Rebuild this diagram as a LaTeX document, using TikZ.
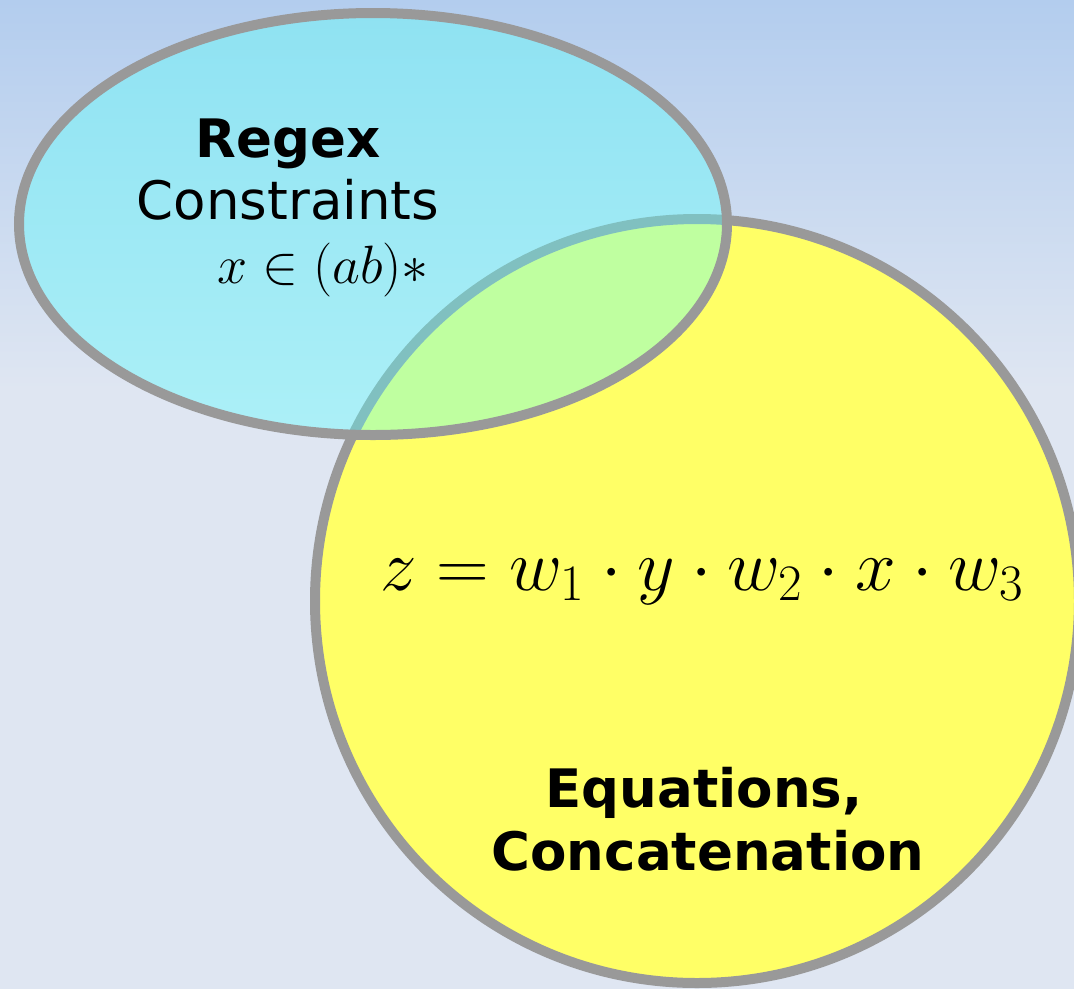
\RequirePackage{fix-cm}
\documentclass[tikz,border=0pt]{standalone}
\usepackage{fontspec}
\setmainfont{DejaVu Sans}
\usetikzlibrary{positioning}

\definecolor{bgtop}{RGB}{179,205,238}
\definecolor{bgbot}{RGB}{223,230,242}
\definecolor{rimgray}{RGB}{153,153,153}
\definecolor{rimteal}{RGB}{128,192,192}
\definecolor{regextop}{RGB}{143,226,242}
\definecolor{regexbot}{RGB}{172,240,247}
\definecolor{eqyellow}{RGB}{255,255,102}
\definecolor{overlap}{RGB}{191,255,160}

\begin{document}
\begin{tikzpicture}[
    x=1pt,
    y=-1pt,
    rim/.style={draw=rimgray,line width=10pt},
    word/.style={anchor=base,inner sep=0pt,font=\fontsize{53}{64}\selectfont},
    head/.style={word,font=\bfseries\fontsize{53}{64}\selectfont},
    formula/.style={anchor=base,inner sep=0pt}
]

\useasboundingbox (0,0) rectangle (1074,989);

\shade[top color=bgtop,bottom color=bgbot] (0,0) rectangle (1074,390);
\fill[bgbot] (0,389) rectangle (1074,989);

\coordinate (regexc) at (373,224);
\coordinate (eqc) at (697,601);

\fill[eqyellow] (eqc) circle [radius=382pt];
\draw[rim] (eqc) circle [radius=382pt];

\shade[top color=regextop,bottom color=regexbot] (regexc) ellipse [x radius=354pt,y radius=211pt];

\begin{scope}
  \clip (regexc) ellipse [x radius=354pt,y radius=211pt];
  \fill[overlap] (eqc) circle [radius=382pt];
  \draw[rimteal,line width=10pt] (eqc) circle [radius=382pt];
\end{scope}

\draw[rim] (regexc) ellipse [x radius=354pt,y radius=211pt];

\node[head] (regex) at (288,157) {Regex};

\node[word] (constraints) at (288,219) {Constraints};

\node[formula,font=\fontsize{54}{64}\selectfont] (member) at (323,283) {$x \in (ab)*$};

\node[formula,font=\fontsize{73}{88}\selectfont] (concat) at (702,590) {$z = w_1 \cdot y \cdot w_2 \cdot x \cdot w_3$};

\node[head] (equations) at (704,807) {Equations,};

\node[head] (concatenation) at (708,870) {Concatenation};

\end{tikzpicture}
\end{document}
